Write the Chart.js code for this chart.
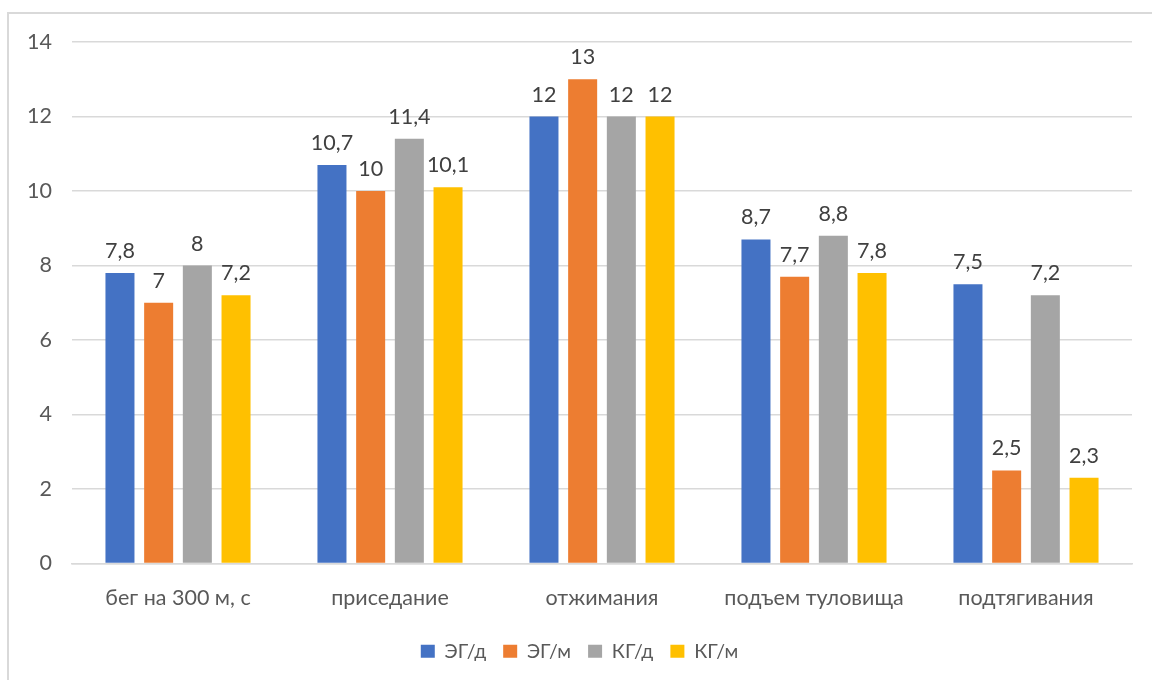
<!DOCTYPE html>
<html>
<head>
<meta charset="utf-8">
<script src="https://cdn.jsdelivr.net/npm/chart.js@4.4.0/dist/chart.umd.min.js"></script>
<style>
  html, body { margin: 0; padding: 0; background: #fff; }
  #wrap { width: 1152px; height: 680px; }
</style>
</head>
<body>
<div id="wrap"><canvas id="c" width="1152" height="680"></canvas></div>
<script>
const categories = ['бег на 300 м, с', 'приседание', 'отжимания', 'подъем туловища', 'подтягивания'];
const seriesNames = ['ЭГ/д', 'ЭГ/м', 'КГ/д', 'КГ/м'];
const egD = [7.8, 10.7, 12, 8.7, 7.5];
const egM = [7, 10, 13, 7.7, 2.5];
const kgD = [8, 11.4, 12, 8.8, 7.2];
const kgM = [7.2, 10.1, 12, 7.8, 2.3];
const colors = ['#4472C4', '#ED7D31', '#A5A5A5', '#FFC000'];
const FONT = 'Lato, "Liberation Sans", sans-serif';

const bgPlugin = {
  id: 'bg',
  beforeDraw(chart) {
    const ctx = chart.ctx;
    ctx.save();
    ctx.fillStyle = '#fff';
    ctx.fillRect(0, 0, chart.width, chart.height);
    ctx.strokeStyle = '#d9d9d9';
    ctx.lineWidth = 2;
    ctx.strokeRect(8, 13, 1300, 800);
    ctx.restore();
  }
};

const labelPlugin = {
  id: 'valueLabels',
  afterDatasetsDraw(chart) {
    const ctx = chart.ctx;
    ctx.save();
    ctx.font = '21.5px ' + FONT;
    ctx.fillStyle = '#404040';
    ctx.textAlign = 'center';
    ctx.textBaseline = 'alphabetic';
    chart.data.datasets.forEach((ds, i) => {
      const meta = chart.getDatasetMeta(i);
      meta.data.forEach((el, j) => {
        const txt = String(ds.data[j]).replace('.', ',');
        ctx.fillText(txt, el.x, el.y - 15);
      });
    });
    ctx.restore();
  }
};

new Chart(document.getElementById('c'), {
  type: 'bar',
  data: {
    labels: categories,
    datasets: [egD, egM, kgD, kgM].map((d, i) => ({
      label: seriesNames[i],
      data: d,
      backgroundColor: colors[i],
      borderWidth: 0,
      categoryPercentage: 0.73,
      barPercentage: 0.75
    }))
  },
  options: {
    responsive: false,
    animation: false,
    layout: { padding: { left: 27, right: 20, top: 42, bottom: 9 } },
    plugins: {
      legend: {
        position: 'bottom',
        labels: {
          font: { family: FONT, size: 19.5 },
          color: '#595959',
          boxWidth: 14,
          boxHeight: 13,
          padding: 17
        }
      },
      tooltip: { enabled: false }
    },
    scales: {
      x: {
        grid: { display: false, drawTicks: false },
        border: { display: true, color: '#d9d9d9', width: 1.5 },
        ticks: { font: { family: FONT, size: 21.5 }, color: '#595959', padding: 22, maxRotation: 0 },
        afterFit(scale) { scale.height = 61; }
      },
      y: {
        min: 0, max: 14,
        grid: { color: '#d9d9d9', lineWidth: 1.5, drawTicks: false },
        border: { display: false },
        ticks: { stepSize: 2, font: { family: FONT, size: 21.5 }, color: '#595959', padding: 20 },
        afterFit(scale) { scale.width = 45; }
      }
    }
  },
  plugins: [bgPlugin, labelPlugin]
});
</script>
</body>
</html>
